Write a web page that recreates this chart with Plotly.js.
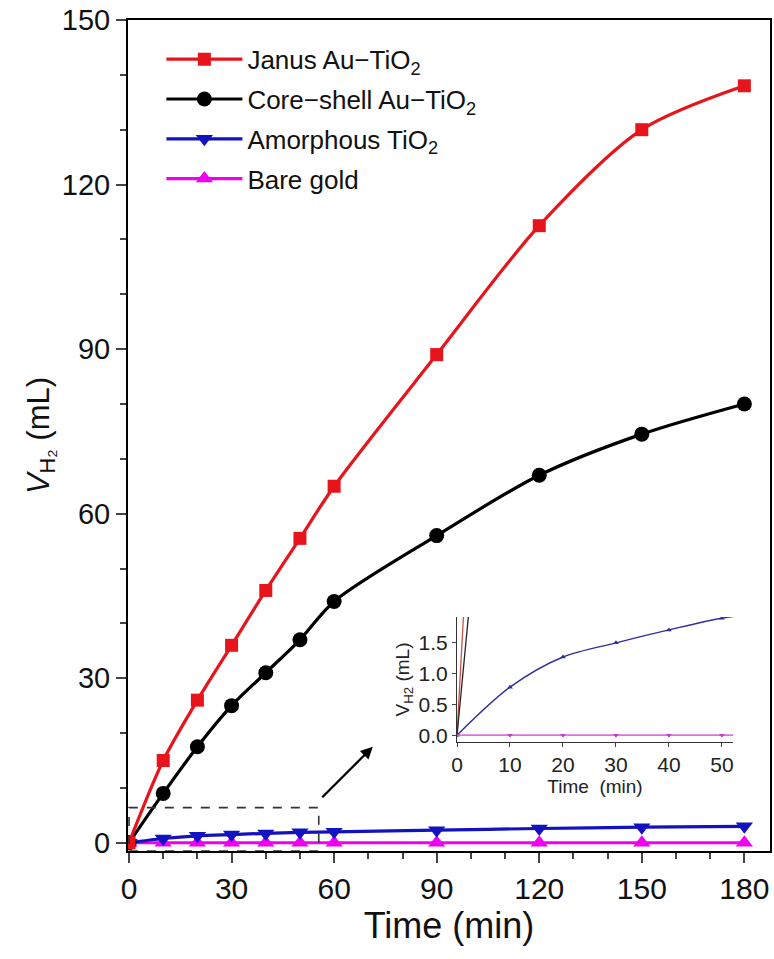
<!DOCTYPE html>
<html>
<head>
<meta charset="utf-8">
<script src="https://cdn.plot.ly/plotly-3.0.1.min.js"></script>
<style>html,body{margin:0;padding:0;background:#fff}#chart{width:774px;height:959px}</style>
</head>
<body>
<div id="chart"></div>
<script>
// ---- data ----
const timeMain = [0, 10, 20, 30, 40, 50, 60, 90, 120, 150, 180];
const janus = [0, 15, 26, 36, 46, 55.5, 65, 89, 112.5, 130, 138];
const coreShell = [0, 9, 17.5, 25, 31, 37, 44, 56, 67, 74.5, 80];
const amorphous = [0, 0.78, 1.27, 1.5, 1.71, 1.9, 2.0, 2.3, 2.6, 2.85, 3.0];
const bareGold = [0, 0, 0, 0, 0, 0, 0, 0, 0, 0, 0];
const seriesNames = ["Janus Au\u2212TiO<sub>2</sub>", "Core\u2212shell Au\u2212TiO<sub>2</sub>", "Amorphous TiO<sub>2</sub>", "Bare gold"];
const timeInset = [0, 10, 20, 30, 40, 50, 60];
const amorphousInset = [0, 0.78, 1.27, 1.5, 1.71, 1.9, 2.0];
const bareGoldInset = [0, 0, 0, 0, 0, 0, 0];
const xTicksMain = [0, 30, 60, 90, 120, 150, 180];
const yTicksMain = [0, 30, 60, 90, 120, 150];
const xTicksInset = [0, 10, 20, 30, 40, 50];
const yTicksInset = [0, 0.5, 1.0, 1.5];

const F = "Arial, 'Liberation Sans', sans-serif";
const colors = ["#e8141c", "#000000", "#1212c0", "#f000f0"];
const symbols = ["square", "circle", "triangle-down", "triangle-up"];
const msizes = [13, 15, 15, 15];
const mainY = [janus, coreShell, amorphous, bareGold];

const traces = mainY.map((y, i) => ({
  x: timeMain, y: y, name: seriesNames[i], type: "scatter", mode: "lines+markers",
  line: {color: colors[i], width: 3.2, shape: "spline", smoothing: 0.85},
  marker: {symbol: symbols[i], size: msizes[i], color: colors[i]},
  legendgroup: "g" + i, legendrank: i + 1, xaxis: "x", yaxis: "y"
}));
// draw order: bare gold on top of amorphous
traces.reverse();

// inset traces
traces.push({x: timeMain, y: janus, xaxis: "x2", yaxis: "y2", mode: "lines", showlegend: false,
  line: {color: "#c85048", width: 1.3, shape: "spline", smoothing: 0.85}});
traces.push({x: timeMain, y: coreShell, xaxis: "x2", yaxis: "y2", mode: "lines", showlegend: false,
  line: {color: "#302020", width: 1.3, shape: "spline", smoothing: 0.85}});
traces.push({x: timeInset, y: amorphousInset, xaxis: "x2", yaxis: "y2", mode: "lines+markers", showlegend: false,
  line: {color: "#30309a", width: 1.4, shape: "spline", smoothing: 0.9}, marker: {symbol: "triangle-up", size: 5, color: "#3030a0"}});
traces.push({x: timeInset, y: bareGoldInset, xaxis: "x2", yaxis: "y2", mode: "lines+markers", showlegend: false,
  line: {color: "#e070e0", width: 1.8}, marker: {symbol: "triangle-down", size: 5, color: "#c040c0"}});

const layout = {
  width: 774, height: 959,
  margin: {l: 128, r: 4, t: 20, b: 108},
  paper_bgcolor: "#fff", plot_bgcolor: "rgba(0,0,0,0)",
  font: {family: F, color: "#111"},
  showlegend: true,
  legend: {x: 0.052, y: 0.981, xanchor: "left", yanchor: "top", bgcolor: "rgba(0,0,0,0)",
    font: {family: F, size: 26, color: "#111"}, itemwidth: 76, tracegroupgap: 3,
    traceorder: "grouped"},
  xaxis: {domain: [0, 1], range: [-0.3, 187.5], tickmode: "array", tickvals: xTicksMain,
    showline: true, mirror: true, linewidth: 2, linecolor: "#000", ticks: "outside", ticklen: 10, tickwidth: 2,
    minor: {dtick: 10, tick0: 0, ticks: "outside", ticklen: 6, tickwidth: 2, showgrid: false},
    showgrid: false, zeroline: false, tickfont: {family: F, size: 30, color: "#111"},
    title: {text: "Time (min)", font: {family: F, size: 36, color: "#111"}, standoff: 2}},
  yaxis: {domain: [0, 1], range: [-1.5, 150], tickmode: "array", tickvals: yTicksMain,
    showline: true, mirror: true, linewidth: 2, linecolor: "#000", ticks: "outside", ticklen: 10, tickwidth: 2,
    minor: {dtick: 10, tick0: 0, ticks: "outside", ticklen: 6, tickwidth: 2, showgrid: false},
    showgrid: false, zeroline: false, tickfont: {family: F, size: 29, color: "#111"},
    title: {text: "<i>V</i><sub>H\u2082</sub> (mL)", font: {family: F, size: 31, color: "#111"}, standoff: 3}},
  xaxis2: {domain: [0.5125, 0.9424], anchor: "y2", range: [0, 52.1], tickmode: "array", tickvals: xTicksInset,
    showline: true, linewidth: 1, linecolor: "#333", ticks: "outside", ticklen: 4, tickwidth: 1,
    showgrid: false, zeroline: false, tickfont: {family: F, size: 21, color: "#222"},
    title: {text: "Time&nbsp;&nbsp;(min)", font: {family: F, size: 19, color: "#222"}, standoff: 3}},
  yaxis2: {domain: [0.1312, 0.2816], anchor: "x2", range: [-0.11, 1.92], tickmode: "array", tickvals: yTicksInset,
    tickformat: ".1f", showline: true, linewidth: 1, linecolor: "#333", ticks: "outside", ticklen: 4, tickwidth: 1,
    showgrid: false, zeroline: false, tickfont: {family: F, size: 21, color: "#222"},
    title: {text: "V<sub>H2</sub> (mL)", font: {family: F, size: 19, color: "#222"}, standoff: 3}},
  shapes: [
    {type: "rect", xref: "x", yref: "y", x0: 0, x1: 55.5, y0: -1.5, y1: 6.4,
     line: {color: "#333", width: 1.6, dash: "dash"}, fillcolor: "rgba(0,0,0,0)"}
  ],
  annotations: [
    {xref: "x", yref: "y", x: 71.3, y: 17.5, ax: -52, ay: 52, showarrow: true, text: "",
     arrowhead: 2, arrowsize: 1.1, arrowwidth: 2.2, arrowcolor: "#000"}
  ]
};

Plotly.newPlot("chart", traces, layout, {displayModeBar: false, staticPlot: true});
</script>
</body>
</html>
